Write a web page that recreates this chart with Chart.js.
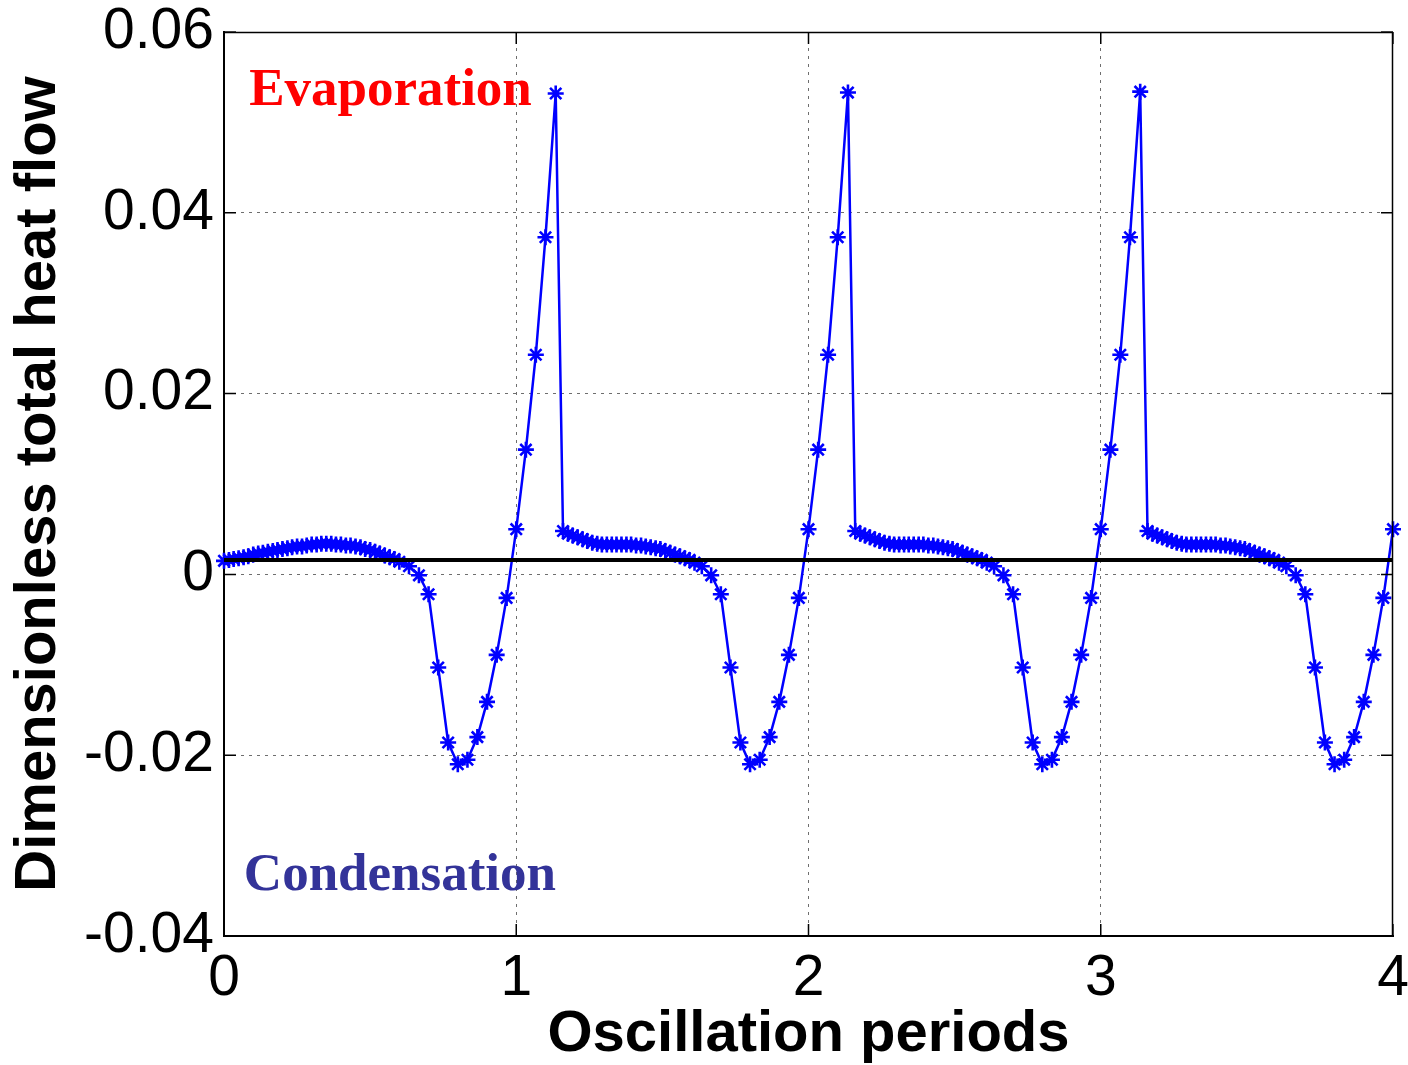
<!DOCTYPE html>
<html>
<head>
<meta charset="utf-8">
<script src="https://cdn.jsdelivr.net/npm/chart.js@4.4.1/dist/chart.umd.min.js"></script>
<style>
  html, body { margin: 0; padding: 0; background: #ffffff; }
  #wrap { width: 1408px; height: 1065px; }
</style>
</head>
<body>
<div id="wrap"><canvas id="heatChart" width="1408" height="1065"></canvas></div>
<script>
// Dimensionless total heat flow over four oscillation periods

// Period 0-1
const period1Time = [0, 0.017, 0.033, 0.05, 0.067, 0.083, 0.1, 0.117, 0.133, 0.15,
  0.167, 0.183, 0.2, 0.217, 0.233, 0.25, 0.267, 0.283, 0.3, 0.317,
  0.333, 0.35, 0.367, 0.383, 0.4, 0.417, 0.433, 0.45, 0.467, 0.483,
  0.5, 0.517, 0.533, 0.55, 0.567, 0.583, 0.6,
  0.633, 0.667, 0.7, 0.733, 0.767, 0.8, 0.833, 0.867, 0.9, 0.933, 0.967,
  1.0, 1.033, 1.067, 1.1, 1.135];
const period1Flow = [0.0015, 0.0016, 0.0017, 0.0018, 0.0019, 0.0020, 0.0022, 0.0023, 0.0024, 0.0025,
  0.0026, 0.0027, 0.0028, 0.0029, 0.0030, 0.0031, 0.0031, 0.0032, 0.0033, 0.0033,
  0.0034, 0.0034, 0.0034, 0.0033, 0.0033, 0.0032, 0.0032, 0.0031, 0.0030, 0.0028,
  0.0027, 0.0025, 0.0023, 0.0021, 0.0019, 0.0017, 0.0014,
  0.0009, -0.0001, -0.0022, -0.0103, -0.0186, -0.0210, -0.0205, -0.0180, -0.0141, -0.0089, -0.0026,
  0.0050, 0.0138, 0.0243, 0.0373, 0.0532];

// Period 1-2
const period2Time = [1.16, 1.177, 1.193, 1.21, 1.227, 1.243, 1.26, 1.277, 1.293, 1.31,
  1.327, 1.343, 1.36, 1.377, 1.393, 1.41, 1.427, 1.443, 1.46, 1.477,
  1.493, 1.51, 1.527, 1.543, 1.56, 1.577, 1.593, 1.61,
  1.635, 1.667, 1.7, 1.733, 1.767, 1.8, 1.833, 1.867, 1.9, 1.933, 1.967,
  2.0, 2.033, 2.067, 2.1, 2.135];
const period2Flow = [0.0048, 0.0045, 0.0043, 0.0041, 0.0039, 0.0037, 0.0035, 0.0034, 0.0033, 0.0033,
  0.0033, 0.0033, 0.0033, 0.0033, 0.0033, 0.0032, 0.0032, 0.0031, 0.0030, 0.0029,
  0.0028, 0.0026, 0.0024, 0.0022, 0.0020, 0.0018, 0.0016, 0.0013,
  0.0009, -0.0001, -0.0022, -0.0103, -0.0186, -0.0210, -0.0205, -0.0180, -0.0141, -0.0089, -0.0026,
  0.0050, 0.0138, 0.0243, 0.0373, 0.0533];

// Period 2-3
const period3Time = [2.16, 2.177, 2.193, 2.21, 2.227, 2.243, 2.26, 2.277, 2.293, 2.31,
  2.327, 2.343, 2.36, 2.377, 2.393, 2.41, 2.427, 2.443, 2.46, 2.477,
  2.493, 2.51, 2.527, 2.543, 2.56, 2.577, 2.593, 2.61,
  2.635, 2.667, 2.7, 2.733, 2.767, 2.8, 2.833, 2.867, 2.9, 2.933, 2.967,
  3.0, 3.033, 3.067, 3.1, 3.135];
const period3Flow = [0.0048, 0.0045, 0.0043, 0.0041, 0.0039, 0.0037, 0.0035, 0.0034, 0.0033, 0.0033,
  0.0033, 0.0033, 0.0033, 0.0033, 0.0033, 0.0032, 0.0032, 0.0031, 0.0030, 0.0029,
  0.0028, 0.0026, 0.0024, 0.0022, 0.0020, 0.0018, 0.0016, 0.0013,
  0.0009, -0.0001, -0.0022, -0.0103, -0.0186, -0.0210, -0.0205, -0.0180, -0.0141, -0.0089, -0.0026,
  0.0050, 0.0138, 0.0243, 0.0373, 0.0534];

// Period 3-4
const period4Time = [3.16, 3.177, 3.193, 3.21, 3.227, 3.243, 3.26, 3.277, 3.293, 3.31,
  3.327, 3.343, 3.36, 3.377, 3.393, 3.41, 3.427, 3.443, 3.46, 3.477,
  3.493, 3.51, 3.527, 3.543, 3.56, 3.577, 3.593, 3.61,
  3.635, 3.667, 3.7, 3.733, 3.767, 3.8, 3.833, 3.867, 3.9, 3.933, 3.967,
  4.0];
const period4Flow = [0.0048, 0.0045, 0.0043, 0.0041, 0.0039, 0.0037, 0.0035, 0.0034, 0.0033, 0.0033,
  0.0033, 0.0033, 0.0033, 0.0033, 0.0033, 0.0032, 0.0032, 0.0031, 0.0030, 0.0029,
  0.0028, 0.0026, 0.0024, 0.0022, 0.0020, 0.0018, 0.0016, 0.0013,
  0.0009, -0.0001, -0.0022, -0.0103, -0.0186, -0.0210, -0.0205, -0.0180, -0.0141, -0.0089, -0.0026,
  0.0050];

// Mean heat flow (horizontal reference line)
const meanTime = [0, 4];
const meanFlow = [0.0016, 0.0016];

// Axis ticks
const xTickLabels = ['0', '1', '2', '3', '4'];
const yTickLabels = ['-0.04', '-0.02', '0', '0.02', '0.04', '0.06'];

// Region labels
const regionLabels = ['Evaporation', 'Condensation'];
const regionAnchorX = [0.086, 0.068];
const regionAnchorY = [0.0519, -0.0349];
const regionColors = ['#ff0000', '#333399'];

function toPoints(xs, ys) {
  return xs.map((x, i) => ({ x: x, y: ys[i] }));
}

const flowPoints = [].concat(
  toPoints(period1Time, period1Flow),
  toPoints(period2Time, period2Flow),
  toPoints(period3Time, period3Flow),
  toPoints(period4Time, period4Flow)
);

const SANS = '"Liberation Sans", Arial, sans-serif';
const SERIF = '"Liberation Serif", "Times New Roman", serif';

// Box outline, inward tick marks and region labels
const framePlugin = {
  id: 'frame',
  afterDatasetsDraw(chart) {
    const { ctx, scales: { x, y } } = chart;
    ctx.save();
    ctx.font = 'bold 53px ' + SERIF;
    ctx.textAlign = 'left';
    ctx.textBaseline = 'alphabetic';
    regionLabels.forEach((t, i) => {
      ctx.fillStyle = regionColors[i];
      ctx.fillText(t, x.getPixelForValue(regionAnchorX[i]), y.getPixelForValue(regionAnchorY[i]));
    });
    ctx.restore();
  },
  afterDraw(chart) {
    const { ctx, chartArea: a, scales: { x, y } } = chart;
    const len = 12;
    ctx.save();
    ctx.strokeStyle = '#000';
    ctx.lineWidth = 1.5;
    ctx.beginPath();
    ctx.moveTo(a.left, a.top + 0.5);
    ctx.lineTo(a.right, a.top + 0.5);
    ctx.moveTo(a.right - 0.5, a.top);
    ctx.lineTo(a.right - 0.5, a.bottom);
    x.ticks.forEach(t => {
      const px = x.getPixelForValue(t.value);
      ctx.moveTo(px, a.bottom); ctx.lineTo(px, a.bottom - len);
      ctx.moveTo(px, a.top); ctx.lineTo(px, a.top + len);
    });
    y.ticks.forEach(t => {
      const py = y.getPixelForValue(t.value);
      ctx.moveTo(a.left, py); ctx.lineTo(a.left + len, py);
      ctx.moveTo(a.right, py); ctx.lineTo(a.right - len, py);
    });
    ctx.stroke();
    ctx.restore();
  }
};

function gridColor(c) {
  if (!c.tick) return 'rgba(0,0,0,0)';
  const s = c.scale;
  const v = c.tick.value;
  if (Math.abs(v - s.min) < 1e-9 || Math.abs(v - s.max) < 1e-9) return 'rgba(0,0,0,0)';
  return '#6e6e6e';
}

new Chart(document.getElementById('heatChart'), {
  type: 'line',
  data: {
    datasets: [
      {
        label: 'Mean',
        data: toPoints(meanTime, meanFlow),
        borderColor: '#000000',
        borderWidth: 4,
        pointRadius: 0,
        fill: false,
        clip: false
      },
      {
        label: 'Total heat flow',
        data: flowPoints,
        borderColor: '#0000ff',
        backgroundColor: '#0000ff',
        borderWidth: 2.5,
        pointStyle: 'star',
        pointRadius: 8,
        pointBorderWidth: 2.6,
        pointBorderColor: '#0000ff',
        tension: 0,
        fill: false,
        clip: false
      }
    ]
  },
  options: {
    responsive: false,
    animation: false,
    devicePixelRatio: 1,
    layout: { padding: { top: 32, right: 15, left: 0, bottom: 0 } },
    plugins: { legend: { display: false }, tooltip: { enabled: false } },
    scales: {
      x: {
        type: 'linear',
        min: 0,
        max: 4,
        afterFit(s) { s.height = 129; s.paddingLeft = 0; s.paddingRight = 0; },
        ticks: {
          stepSize: 1,
          autoSkip: false,
          maxRotation: 0,
          padding: 9,
          color: '#000',
          font: { family: SANS, size: 57 },
          callback: (v, i) => xTickLabels[i]
        },
        grid: { color: gridColor, lineWidth: 1, drawTicks: false },
        border: { display: true, color: '#000', width: 2, dash: [3, 5] },
        title: {
          display: true,
          text: 'Oscillation periods',
          color: '#000',
          font: { family: SANS, size: 58, weight: 'bold', lineHeight: 1.05 },
          padding: 0
        }
      },
      y: {
        type: 'linear',
        min: -0.04,
        max: 0.06,
        afterFit(s) { s.width = 224; s.paddingTop = 0; s.paddingBottom = 0; },
        ticks: {
          stepSize: 0.02,
          autoSkip: false,
          padding: 10,
          color: '#000',
          font: { family: SANS, size: 57 },
          callback: (v, i) => yTickLabels[i]
        },
        grid: { color: gridColor, lineWidth: 1, drawTicks: false },
        border: { display: true, color: '#000', width: 2, dash: [3, 5] },
        title: {
          display: true,
          text: 'Dimensionless total heat flow',
          color: '#000',
          font: { family: SANS, size: 58, weight: 'bold' },
          padding: { top: 4, bottom: 0 }
        }
      }
    }
  },
  plugins: [framePlugin]
});
</script>
</body>
</html>
